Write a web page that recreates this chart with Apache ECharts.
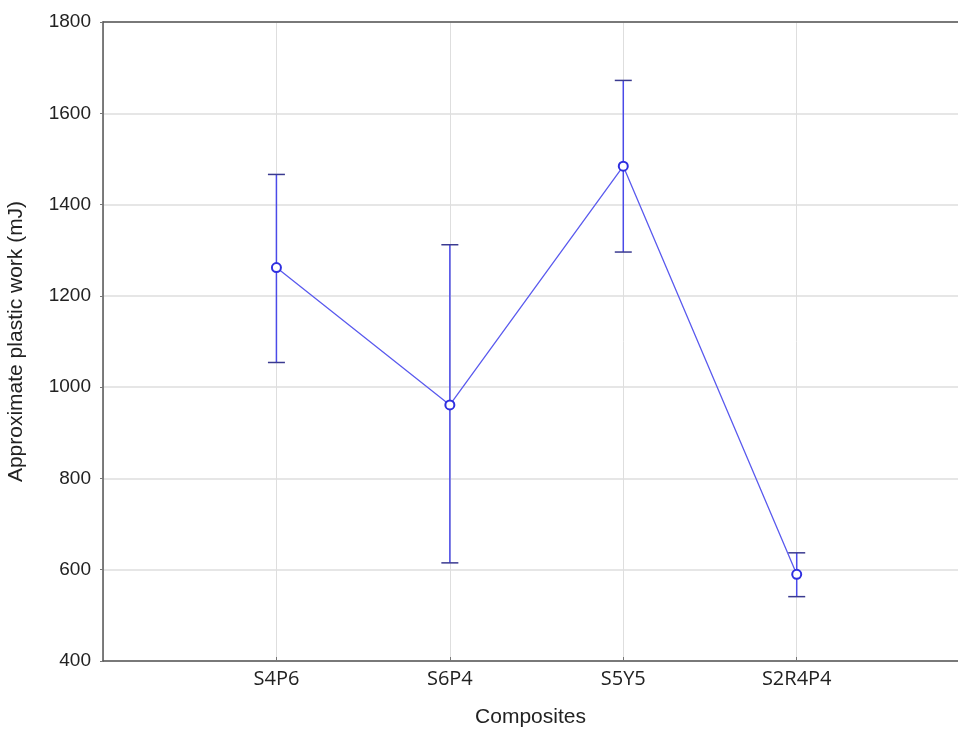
<!DOCTYPE html>
<html>
<head>
<meta charset="utf-8">
<script src="https://cdn.jsdelivr.net/npm/echarts@6/dist/echarts.min.js"></script>
<style>html,body{margin:0;padding:0;background:#fff;}#c{width:958px;height:729px;}</style>
</head>
<body>
<div id="c"></div>
<script>
const categories = ['S4P6', 'S6P4', 'S5Y5', 'S2R4P4'];
const means = [1262, 961, 1484, 590];
const upper = [1466, 1312, 1672, 637];
const lower = [1054, 615, 1296, 541];
const yTicks = [400, 600, 800, 1000, 1200, 1400, 1600, 1800];

const chart = echarts.init(document.getElementById('c'));
const errData = categories.map((c, i) => [i + 1, lower[i], upper[i]]);
const lineData = categories.map((c, i) => [i + 1, means[i]]);
const xMax = 4.93;
chart.setOption({
  animation: false,
  grid: { left: 103, top: 22, right: 0, height: 639, containLabel: false, outerBoundsMode: 'none' },
  xAxis: [{
    type: 'value',
    min: 0,
    max: xMax,
    interval: 1,
    name: 'Composites',
    nameLocation: 'middle',
    nameGap: 46,
    nameTextStyle: { fontFamily: 'Liberation Sans, Arial', fontSize: 21, color: '#222' },
    axisLine: { show: true, onZero: false, lineStyle: { color: '#555', width: 1.5 } },
    axisTick: { show: true, inside: true, length: 4, lineStyle: { color: '#777' } },
    axisLabel: {
      fontFamily: 'Open Sans, Noto Sans', fontSize: 20, color: '#222', margin: 8,
      showMinLabel: false, showMaxLabel: false,
      formatter: function (v) { return categories[Math.round(v) - 1] || ''; }
    },
    splitLine: { show: true, lineStyle: { color: '#dedede', width: 1 } }
  }, {
    type: 'value',
    position: 'top',
    min: 0,
    max: xMax,
    axisLine: { show: true, onZero: false, lineStyle: { color: '#555', width: 1.5 } },
    axisTick: { show: false },
    axisLabel: { show: false },
    splitLine: { show: false }
  }],
  yAxis: {
    type: 'value',
    min: yTicks[0],
    max: yTicks[yTicks.length - 1],
    interval: 200,
    name: 'Approximate plastic work (mJ)',
    nameLocation: 'middle',
    nameGap: 76,
    nameTextStyle: { fontFamily: 'Liberation Sans, Arial', fontSize: 21, color: '#222' },
    axisLine: { show: true, lineStyle: { color: '#555', width: 1.5 } },
    axisTick: { show: true, length: 3, lineStyle: { color: '#777' } },
    axisLabel: {
      fontFamily: 'Liberation Sans, Arial', fontSize: 19, color: '#222', margin: 12,
      formatter: function (v) { return String(v); }
    },
    splitLine: { show: true, lineStyle: { color: '#dedede', width: 1.5 } }
  },
  series: [{
    type: 'custom',
    data: errData,
    z: 3,
    renderItem: function (params, api) {
      const x = api.value(0);
      const lo = api.coord([x, api.value(1)]);
      const hi = api.coord([x, api.value(2)]);
      const hw = 8.5;
      return {
        type: 'group',
        children: [
          { type: 'line', shape: { x1: lo[0], y1: lo[1], x2: hi[0], y2: hi[1] }, style: { stroke: '#4a4ae8', lineWidth: 1.5 } },
          { type: 'line', shape: { x1: lo[0] - hw, y1: lo[1], x2: lo[0] + hw, y2: lo[1] }, style: { stroke: '#3a3a90', lineWidth: 1.5 } },
          { type: 'line', shape: { x1: hi[0] - hw, y1: hi[1], x2: hi[0] + hw, y2: hi[1] }, style: { stroke: '#3a3a90', lineWidth: 1.5 } }
        ]
      };
    }
  }, {
    type: 'line',
    data: lineData,
    z: 4,
    symbol: 'circle',
    symbolSize: 9,
    lineStyle: { color: '#5a5aee', width: 1.3 },
    itemStyle: { color: '#ffffff', borderColor: '#2f2fe0', borderWidth: 2 }
  }]
});
</script>
</body>
</html>
